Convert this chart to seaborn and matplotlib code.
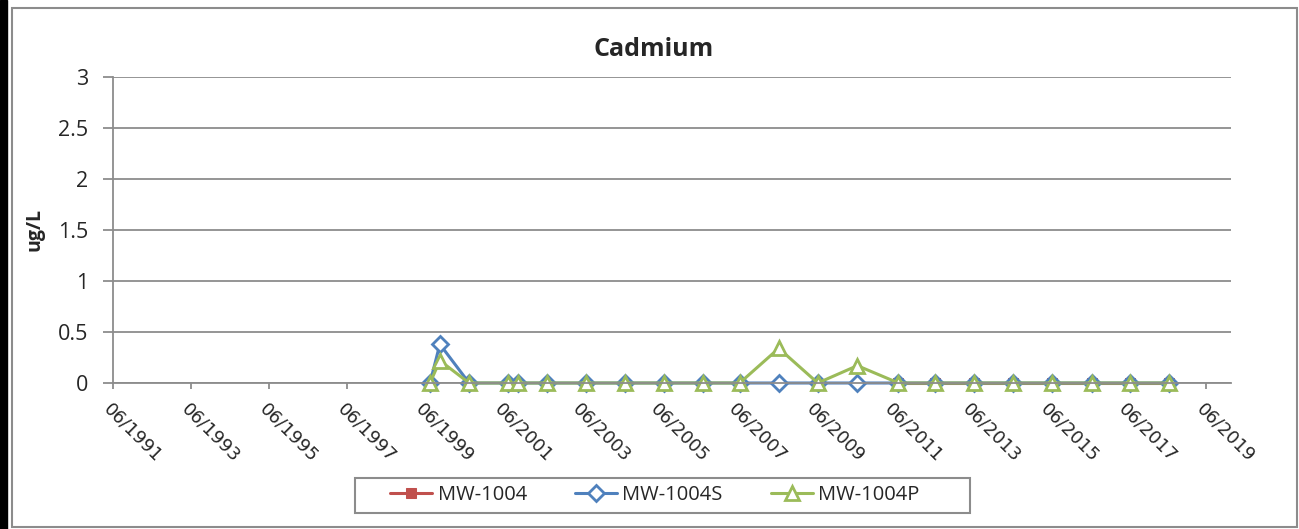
import pandas as pd
import numpy as np
import seaborn as sns
import matplotlib.pyplot as plt
import matplotlib.dates as mdates
from matplotlib.patches import Rectangle

# ---- data ----
dates_all = ["1999-07-15", "1999-10-15", "2000-07-15", "2001-07-15", "2001-10-15",
             "2002-07-15", "2003-07-15", "2004-07-15", "2005-07-15", "2006-07-15",
             "2007-06-20", "2008-06-20", "2009-06-20", "2010-06-25", "2011-07-15",
             "2012-06-20", "2013-06-20", "2014-06-20", "2015-06-20", "2016-06-25",
             "2017-06-20", "2018-06-15"]
mw1004s = [0, 0.38, 0, 0, 0, 0, 0, 0, 0, 0, 0, 0, 0, 0, 0, 0, 0, 0, 0, 0, 0, 0]
mw1004p = [0, 0.22, 0, 0, 0, 0, 0, 0, 0, 0, 0, 0.34, 0, 0.17, 0, 0, 0, 0, 0, 0, 0, 0]

dates_1004 = ["2011-07-15", "2012-06-20", "2013-06-20", "2014-06-20", "2015-06-20",
              "2016-06-25", "2017-06-20", "2018-06-15"]
mw1004 = [0, 0, 0, 0, 0, 0, 0, 0]

tick_years = list(range(1991, 2020, 2))
ytick_labels = ["0", "0.5", "1", "1.5", "2", "2.5", "3"]

df_s = pd.DataFrame({"date": pd.to_datetime(dates_all), "val": mw1004s})
df_p = pd.DataFrame({"date": pd.to_datetime(dates_all), "val": mw1004p})
df_r = pd.DataFrame({"date": pd.to_datetime(dates_1004), "val": mw1004})

sns.set_style("white")
plt.rcParams["font.family"] = ["Open Sans", "DejaVu Sans"]

W, H = 1299, 529
fig = plt.figure(figsize=(W / 100, H / 100), dpi=100)
ax = fig.add_axes([113 / W, 1 - 383 / H, (1231 - 113) / W, (383 - 77) / H])

# frame around the chart + black strip at the left edge
fig.patches.append(Rectangle((0, 0), 7 / W, 1, transform=fig.transFigure,
                             color="black", zorder=0))
fig.patches.append(Rectangle((12 / W, 2 / H), 1285 / W, 519 / H,
                             transform=fig.transFigure, fill=False,
                             edgecolor="#8c8c8c", linewidth=1.5, zorder=1))

red, blue, green = "#C0504D", "#4F81BD", "#9BBB59"

sns.lineplot(data=df_r, x="date", y="val", ax=ax, color=red, lw=2.2,
             marker="s", markersize=7, markerfacecolor=red, markeredgecolor=red,
             label="MW-1004", clip_on=False)
sns.lineplot(data=df_s, x="date", y="val", ax=ax, color=blue, lw=2.2,
             marker="D", markersize=8.5, markerfacecolor="white", markeredgecolor=blue,
             markeredgewidth=2, label="MW-1004S", clip_on=False)
sns.lineplot(data=df_p, x="date", y="val", ax=ax, color=green, lw=2.2,
             marker="^", markersize=10.5, markerfacecolor="white", markeredgecolor=green,
             markeredgewidth=2, label="MW-1004P", clip_on=False)

ax.set_ylim(0, 3)
ax.set_yticks(np.arange(0, 3.01, 0.5))
ax.set_yticklabels(ytick_labels, fontsize=15.5)
ax.set_xlim(pd.Timestamp("1991-06-01"), pd.Timestamp("2020-01-20"))
ax.set_xticks([pd.Timestamp(f"{y}-06-01") for y in tick_years])
ax.xaxis.set_major_formatter(mdates.DateFormatter("%m/%Y"))
for lab in ax.get_xticklabels():
    lab.set_rotation(-45)
    lab.set_ha("left")
    lab.set_va("top")
    lab.set_rotation_mode("anchor")
    lab.set_fontsize(13)
    lab.set_fontfamily("DejaVu Sans")

ax.grid(axis="y", color="#8c8c8c", lw=1.3)
ax.set_axisbelow(True)
for s in ["top", "right"]:
    ax.spines[s].set_visible(False)
for s in ["left", "bottom"]:
    ax.spines[s].set_color("#8c8c8c")
    ax.spines[s].set_linewidth(1.3)
ax.tick_params(axis="both", which="major", direction="out",
               color="#8c8c8c", width=1.3, bottom=True, left=True)
ax.tick_params(axis="y", length=7, pad=11)
ax.tick_params(axis="x", length=4.5, pad=8)

ax.set_xlabel("")
ax.set_ylabel("")
fig.text(35 / W, 1 - 230 / H, "ug/L", rotation=90, fontsize=14, fontweight="bold",
         ha="center", va="center")
fig.text(654 / W, 1 - 49 / H, "Cadmium", fontsize=18, fontweight="bold",
         ha="center", va="center")

# legend: entries without frame, box drawn separately
leg = ax.legend(loc="center", bbox_to_anchor=(655 / W, 1 - 495 / H),
                bbox_transform=fig.transFigure, ncol=3, fontsize=14.5,
                frameon=False, handlelength=2.1, handletextpad=0.25,
                columnspacing=2.4)
fig.patches.append(Rectangle((355 / W, 1 - 513 / H), 615 / W, 35 / H,
                             transform=fig.transFigure, fill=False,
                             edgecolor="#8c8c8c", linewidth=1.5))

fig.savefig("out.png", dpi=100)
